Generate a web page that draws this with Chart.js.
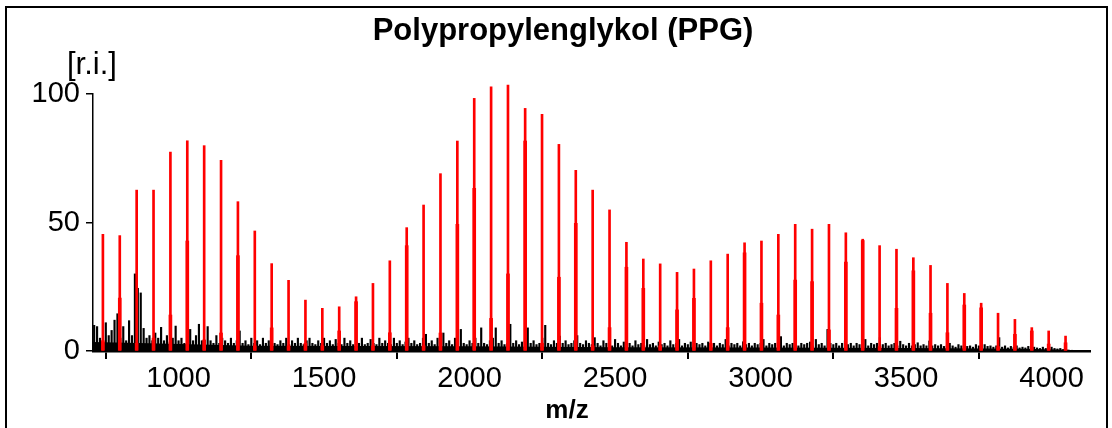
<!DOCTYPE html>
<html>
<head>
<meta charset="utf-8">
<title>Polypropylenglykol (PPG)</title>
<script src="https://cdn.jsdelivr.net/npm/chart.js@4"></script>
<style>
  html, body { margin: 0; padding: 0; background: #fff; }
  canvas { display: block; }
</style>
</head>
<body>
<canvas id="spectrum" width="1112" height="428"></canvas>
<script>
const titleText = 'Polypropylenglykol (PPG)';
const xTitle = 'm/z';
const yTitle = '[r.i.]';

// oligomer series, one line per repeat unit (58 Da)
const peakMz = [740, 798, 856, 914, 972, 1030, 1088, 1146, 1204, 1262,
  1320, 1378, 1436, 1494, 1552, 1610, 1668, 1726, 1784, 1842,
  1900, 1958, 2016, 2074, 2132, 2191, 2249, 2307, 2365, 2423,
  2481, 2539, 2597, 2655, 2713, 2771, 2829, 2887, 2945, 3003,
  3061, 3119, 3177, 3235, 3293, 3351, 3409, 3467, 3525, 3584,
  3642, 3700, 3758, 3816, 3874, 3932, 3990, 4048];

const peakMain = [45.4, 44.9, 62.6, 62.6, 77.4, 81.8, 79.9, 74.2, 58.1, 46.7,
  34, 27.5, 19.8, 16.6, 17.2, 21.1, 26.3, 35.1, 48, 56.8,
  69, 81.7, 98.3, 102.8, 103.5, 94.4, 92.1, 80.4, 70.3, 62.6,
  54.9, 42.3, 35.8, 33.9, 30.6, 31.9, 35.1, 37.7, 42.1, 42.8,
  45.4, 49.3, 47.4, 49.3, 46, 43.5, 41, 39.6, 36.3, 33.3,
  26.3, 22.4, 18.6, 14.7, 12.3, 9.1, 7.8, 5.8];

// neighbouring signal under each oligomer line
const peakSub = [4, 20.6, 3, 5, 14, 42.8, 4.3, 7, 37.1, 2,
  9, 2, 3, 2, 7.8, 19.2, 2, 7.1, 41, 2,
  7, 49.3, 63.3, 12.7, 30, 81.7, 3, 28.7, 49.7, 2,
  9.1, 32.6, 24.4, 2, 16, 20.5, 3, 9.1, 38.2, 18.6,
  14, 27.6, 27, 8.2, 34.6, 43, 1.7, 16.6, 31.2, 14.7,
  7.1, 17.9, 16.8, 1.7, 6.5, 7.8, 2.7, 3.2];

// baseline noise, sampled every 10 m/z from 710
const noiseStart = 710;
const noiseStep = 10;
const noiseLevels = [
  10, 9.5, 5, 4, 11, 6, 8, 12, 14.5, 5,
  9.5, 4, 11.8, 6, 30, 24.4, 22.6, 8.8, 5, 6,
  4, 7, 5, 9.2, 4, 6, 3.5, 5, 9.7, 4,
  5, 3, 4, 8.4, 4, 6, 10.4, 4, 3, 9.5,
  4, 3, 6, 3, 5, 4, 3, 5, 3, 4,
  7.8, 3, 4, 2.5, 5, 3, 4, 2.5, 5, 3,
  4, 5, 3, 2.5, 4, 3, 5, 2.5, 4, 3,
  5, 3, 2.5, 4, 5, 3, 2.5, 4, 3, 5,
  3, 4, 2.5, 4.5, 3, 2.5, 5, 3, 4, 2.5,
  4, 3, 5, 2.5, 3, 4.5, 3, 2.5, 5, 3,
  4, 3, 2.5, 5, 3, 4, 2.5, 3.5, 5, 3,
  4, 2.5, 3, 5, 6.5, 3, 4, 2.5, 5, 3,
  7, 3, 4, 2.5, 5, 3, 8.4, 3, 2.5, 4,
  3, 5, 3, 9, 3, 2.5, 4, 5, 9, 3,
  4, 2.5, 3, 10.4, 3, 4, 2.5, 3.5, 4, 9,
  3, 4, 2.5, 3, 5, 10, 3, 2.5, 4, 3,
  5.8, 3, 4, 2.5, 3, 4, 6, 3, 2.5, 4,
  3, 2.5, 5.2, 3, 2, 4, 3, 2.5, 2, 4.5,
  3, 2, 3.5, 2.5, 3, 2, 4, 2.5, 3, 2,
  4.5, 2.5, 3, 2, 3.5, 2.5, 3, 2, 4, 2.5,
  3, 4.5, 2, 3, 2.5, 3.5, 2, 3, 2.5, 3,
  2, 3.5, 2.5, 3, 2, 3, 2.5, 4.5, 2, 3,
  2.5, 3, 2, 3.6, 2.5, 3, 2, 3, 2.5, 3,
  4.5, 2, 3, 2.5, 3, 3.5, 5.6, 2, 3, 2.5,
  3, 5.6, 2, 3, 2.5, 3, 3.5, 2, 4.5, 2.5,
  3, 2, 8.4, 3, 2.5, 3, 2, 3, 4, 2.5,
  3, 2, 3, 2.5, 3, 4.5, 2, 3, 2.5, 3,
  5.2, 2.5, 3, 2, 2.5, 3, 2, 3.8, 2.5, 2,
  3, 2, 2.5, 3.2, 2, 2.5, 2, 3.9, 2, 2.5,
  2, 2.5, 1.8, 2, 3, 2, 1.5, 2.5, 2, 2.8,
  1.8, 2, 1.5, 2.5, 2, 1.5, 2.5, 1.8, 2, 1.5,
  2, 5.2, 1.5, 2, 1.2, 1.8, 1.5, 2, 1.2, 1.5,
  1.2, 1.8, 1, 1.5, 1.2, 1, 1.5, 1, 1.2, 1.5,
  1, 0.8, 1, 0.6, 0.5, 0.3, 0.2, 0, 0, 0
];

// dense floor of the noise band
const floorMz = [706, 900, 1250, 2000, 2500, 3000, 3500, 3900, 4060, 4075];
const floorLevels = [3.5, 3, 2, 1.8, 1.5, 1.4, 1.2, 0.9, 0.5, 0];

const xTicks = [1000, 1500, 2000, 2500, 3000, 3500, 4000];
const yTicks = [0, 50, 100];

const FONT = '"Liberation Sans", Arial, Helvetica, sans-serif';

const mainPoints = peakMz.map((m, i) => ({ x: m, y: peakMain[i] }));
const subPoints = peakMz.map((m, i) => ({ x: m, y: peakSub[i] }));
const noisePoints = noiseLevels.map((v, i) => ({ x: noiseStart + i * noiseStep, y: v }));
const floorPoints = floorMz.map((m, i) => ({ x: m, y: floorLevels[i] }));

// frame, headline and axis captions
const decorations = {
  id: 'decorations',
  beforeDraw(chart) {
    const ctx = chart.ctx;
    ctx.save();
    ctx.fillStyle = '#fff';
    ctx.fillRect(0, 0, chart.width, chart.height);
    ctx.restore();
  },
  afterDraw(chart) {
    const ctx = chart.ctx;
    ctx.save();
    ctx.strokeStyle = '#000';
    ctx.lineWidth = 2;
    ctx.strokeRect(6, 7, 1101, 440);
    ctx.fillStyle = '#000';
    ctx.textBaseline = 'alphabetic';
    ctx.textAlign = 'center';
    ctx.font = 'bold 31px ' + FONT;
    ctx.fillText(titleText, 563, 40);
    ctx.font = 'bold 26px ' + FONT;
    ctx.fillText(xTitle, 567, 418);
    ctx.textAlign = 'left';
    ctx.font = '31px ' + FONT;
    ctx.fillText(yTitle, 67, 74);
    ctx.restore();
  }
};

const plain = v => String(v);

new Chart(document.getElementById('spectrum'), {
  type: 'bar',
  data: {
    datasets: [
      {
        data: mainPoints,
        backgroundColor: '#ff0000',
        barThickness: 2,
        grouped: false,
        clip: false,
        order: 1
      },
      {
        data: subPoints,
        backgroundColor: '#ff0000',
        barThickness: 3,
        grouped: false,
        clip: false,
        order: 2
      },
      {
        data: noisePoints,
        backgroundColor: '#000',
        barThickness: 1.5,
        grouped: false,
        order: 3
      },
      {
        type: 'line',
        data: floorPoints,
        borderWidth: 0,
        borderColor: '#000',
        backgroundColor: '#000',
        fill: 'origin',
        pointRadius: 0,
        order: 4
      }
    ]
  },
  options: {
    responsive: false,
    animation: false,
    events: [],
    layout: { padding: { top: 94, right: 22, left: 0, bottom: 0 } },
    plugins: {
      legend: { display: false },
      tooltip: { enabled: false }
    },
    scales: {
      x: {
        type: 'linear',
        min: 706,
        max: 4132,
        offset: false,
        afterBuildTicks: s => { s.ticks = xTicks.map(v => ({ value: v })); },
        afterFit: s => { s.height = 77; },
        border: { display: true, color: '#000', width: 2.5 },
        grid: { drawOnChartArea: false, drawTicks: true, tickLength: 8, color: '#000', lineWidth: 2 },
        ticks: { color: '#000', font: { family: FONT, size: 29 }, padding: 3, maxRotation: 0, callback: plain }
      },
      y: {
        min: 0,
        max: 100,
        afterBuildTicks: s => { s.ticks = yTicks.map(v => ({ value: v })); },
        afterFit: s => { s.width = 93; },
        border: { display: true, color: '#000', width: 1.5 },
        grid: { drawOnChartArea: false, drawTicks: true, tickLength: 7, color: '#000', lineWidth: 1.5 },
        ticks: { color: '#000', font: { family: FONT, size: 29 }, padding: 6, callback: plain }
      }
    }
  },
  plugins: [decorations]
});
</script>
</body>
</html>
